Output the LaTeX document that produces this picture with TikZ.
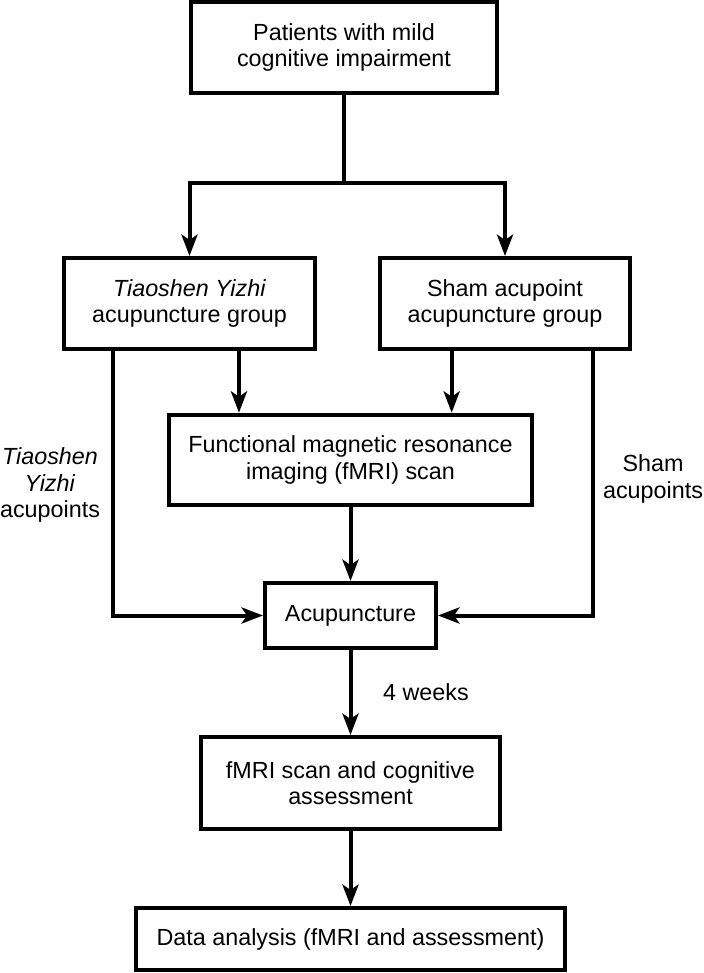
\documentclass[tikz,border=0pt]{standalone}
\usepackage{fontspec}
\setmainfont{Liberation Sans}
\usepackage{tikz}
\usetikzlibrary{positioning,calc,arrows.meta}

\begin{document}
\begin{tikzpicture}[
	x=0.75pt, y=-0.75pt,
	font=\fontsize{17.5pt}{20pt}\selectfont,
	% Khung chu nhat, vien dam
	flowbox/.style={draw=black, line width=3pt, inner sep=0pt, align=center, anchor=center},
	flow_line/.style={black, line width=3pt},
	flow_arrow/.style={
		-{Stealth[length=16pt, width=12pt, inset=4pt]},
		black, line width=3pt
	},
	side_label/.style={inner sep=0pt, align=center}
	]
	\useasboundingbox (0,0) rectangle (703,973);

	% --- CAC KHUNG ---
	\node[flowbox, minimum width=229.5pt, minimum height=68.25pt] (patients) at (344,47.5) {Patients with mild\\cognitive impairment};
	\node[flowbox, minimum width=188.25pt, minimum height=68.25pt] (tygroup) at (189.5,303.5) {\textit{Tiaoshen Yizhi}\\acupuncture group};
	\node[flowbox, minimum width=188pt, minimum height=68.25pt] (shamgroup) at (505,303.5) {Sham acupoint\\acupuncture group};
	\node[flowbox, minimum width=272.25pt, minimum height=67.9pt] (fmri) at (350.5,460) {Functional magnetic resonance\\imaging (fMRI) scan};
	\node[flowbox, minimum width=128.25pt, minimum height=48.75pt] (acu) at (350.5,615.5) {Acupuncture};
	\node[flowbox, minimum width=224.25pt, minimum height=69pt] (followup) at (350.5,783) {fMRI scan and cognitive\\assessment};
	\node[flowbox, minimum width=321.4pt, minimum height=46.5pt] (analysis) at (350.5,939) {Data analysis (fMRI and assessment)};

	% --- NHAN BEN CANH ---
	\node[side_label] (tylabel) at (50,485) {\textit{Tiaoshen}\\\textit{Yizhi}\\acupoints};
	\node[side_label] (shamlabel) at (653,479) {Sham\\acupoints};

	% --- CHIA NHOM ---
	\draw[flow_line] (patients.south) -- ++(0,88.5) coordinate (split);
	\draw[flow_arrow] (split) -| (tygroup.north);
	\draw[flow_arrow] (split) -| (shamgroup.north);

	% --- DIEM RA CUA HAI NHOM ---
	\coordinate (tyout) at ([xshift=-57.4pt]tygroup.south);
	\coordinate (tyscan) at ([xshift=37.1pt]tygroup.south);
	\coordinate (shamscan) at ([xshift=-40pt]shamgroup.south);
	\coordinate (shamout) at ([xshift=65.8pt]shamgroup.south);

	% Nhom -> fMRI
	\draw[flow_arrow] (tyscan) -- (tyscan |- fmri.north);
	\draw[flow_arrow] (shamscan) -- (shamscan |- fmri.north);
	% Nhom -> cham cuu (vong ngoai)
	\draw[flow_arrow] (tyout) |- (acu.west);
	\draw[flow_arrow] (shamout) |- (acu.east);

	% --- TRUC CHINH ---
	\draw[flow_arrow] (fmri) -- (acu);
	\draw[flow_arrow] (acu) -- node[side_label, right=23pt] (weeks) {4 weeks} (followup);
	\draw[flow_arrow] (followup) -- (analysis);

\end{tikzpicture}
\end{document}
